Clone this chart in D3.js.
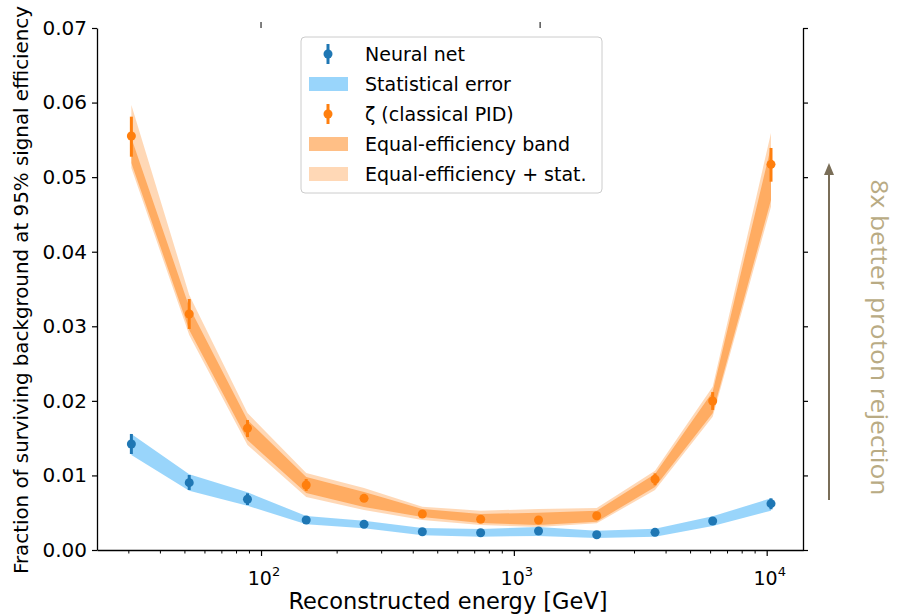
<!DOCTYPE html>
<html>
<head>
    <title>Background rejection vs energy</title>
    <style>
        body { margin: 0; background: #fff; }
        text { font-family: "DejaVu Sans", sans-serif; }
    </style>
</head>
<body>
    <script src="https://d3js.org/d3.v7.min.js"></script>
    <script>
        // bin centres in GeV
        const energy = [30.7, 52.0, 88.4, 150.9, 255.5, 434.5, 739, 1252, 2127, 3617, 6115, 10400];

        // Neural net
        const nnValue  = [0.01421, 0.00903, 0.0068, 0.00402, 0.00345, 0.00245, 0.00232, 0.00255, 0.00205, 0.00237, 0.00389, 0.00621];
        const nnErrHi  = [0.01556, 0.01006, 0.0076, 0.00418, 0.0036, 0.0026, 0.00247, 0.00272, 0.0022, 0.00253, 0.00405, 0.00693];
        const nnErrLo  = [0.01287, 0.00805, 0.00603, 0.00386, 0.0033, 0.0023, 0.00217, 0.00238, 0.0019, 0.00221, 0.00373, 0.00546];
        const nnBandHi = [0.01556, 0.01015, 0.00774, 0.00456, 0.00393, 0.00295, 0.00282, 0.00308, 0.00259, 0.00286, 0.00452, 0.00693];
        const nnBandLo = [0.01274, 0.00795, 0.00594, 0.00345, 0.00291, 0.00197, 0.00178, 0.00188, 0.00161, 0.00178, 0.00322, 0.00527];

        // zeta (classical PID)
        const zetaValue  = [0.05552, 0.03165, 0.01632, 0.00872, 0.00693, 0.00483, 0.00412, 0.00402, 0.0046, 0.00948, 0.01998, 0.05172];
        const zetaErrHi  = [0.05811, 0.03366, 0.01743, 0.00952, 0.0072, 0.0051, 0.00439, 0.00456, 0.00487, 0.01028, 0.02118, 0.05391];
        const zetaErrLo  = [0.05274, 0.02964, 0.01515, 0.00792, 0.00666, 0.00456, 0.00385, 0.00348, 0.00433, 0.00868, 0.01878, 0.04939];
        const bandHi = [0.05525, 0.03259, 0.01743, 0.00979, 0.00778, 0.0055, 0.00483, 0.005, 0.00527, 0.01019, 0.02123, 0.05408];
        const bandLo = [0.0519, 0.0295, 0.01475, 0.00764, 0.00577, 0.00443, 0.00362, 0.00335, 0.0038, 0.00845, 0.01833, 0.04694];
        const statHi = [0.05967, 0.0342, 0.01837, 0.01033, 0.00831, 0.00581, 0.00527, 0.0055, 0.00563, 0.01063, 0.0219, 0.05592];
        const statLo = [0.05123, 0.02883, 0.01408, 0.00711, 0.00536, 0.00402, 0.00335, 0.00308, 0.00358, 0.00805, 0.01788, 0.04604];

        const yTicks = [0, 0.01, 0.02, 0.03, 0.04, 0.05, 0.06, 0.07];
        const xMajor = [100, 1000, 10000];
        const topTicks = [100, 1270];

        const width = 898, height = 616;
        const margin = { top: 28, right: 95, bottom: 66, left: 97 };

        const svg = d3.select('body').append('svg')
            .attr('width', width)
            .attr('height', height);

        const x = d3.scaleLog()
            .domain([22.45, 13920])
            .range([margin.left, width - margin.right]);

        const y = d3.scaleLinear()
            .domain([0, 0.07])
            .range([height - margin.bottom, margin.top]);

        const rows = energy.map((e, i) => ({
            e,
            nn: nnValue[i], nnHi: nnErrHi[i], nnLo: nnErrLo[i], nbHi: nnBandHi[i], nbLo: nnBandLo[i],
            z: zetaValue[i], zHi: zetaErrHi[i], zLo: zetaErrLo[i],
            bHi: bandHi[i], bLo: bandLo[i], sHi: statHi[i], sLo: statLo[i]
        }));

        const blueBand = '#87cefa';
        const orange = '#ff7f0e';
        const blue = '#1f77b4';

        function band(lo, hi) {
            return d3.area().x(d => x(d.e)).y0(d => y(d[lo])).y1(d => y(d[hi]));
        }

        // bands
        svg.append('path').datum(rows).attr('d', band('nbLo', 'nbHi'))
            .attr('fill', blueBand).attr('fill-opacity', 0.85);
        svg.append('path').datum(rows).attr('d', band('sLo', 'sHi'))
            .attr('fill', orange).attr('fill-opacity', 0.3);
        svg.append('path').datum(rows).attr('d', band('bLo', 'bHi'))
            .attr('fill', orange).attr('fill-opacity', 0.5);

        // error bars
        svg.selectAll('line.nnerr').data(rows).enter().append('line')
            .attr('x1', d => x(d.e)).attr('x2', d => x(d.e))
            .attr('y1', d => y(d.nnLo)).attr('y2', d => y(d.nnHi))
            .attr('stroke', blue).attr('stroke-width', 3);
        svg.selectAll('circle.nn').data(rows).enter().append('circle')
            .attr('cx', d => x(d.e)).attr('cy', d => y(d.nn)).attr('r', 4.5)
            .attr('fill', blue);

        svg.selectAll('line.zerr').data(rows).enter().append('line')
            .attr('x1', d => x(d.e)).attr('x2', d => x(d.e))
            .attr('y1', d => y(d.zLo)).attr('y2', d => y(d.zHi))
            .attr('stroke', orange).attr('stroke-width', 3);
        svg.selectAll('circle.z').data(rows).enter().append('circle')
            .attr('cx', d => x(d.e)).attr('cy', d => y(d.z)).attr('r', 4.5)
            .attr('fill', orange);

        // axes
        const x0 = margin.left, x1 = width - margin.right;
        const y0 = height - margin.bottom, y1 = margin.top;

        const gLeft = svg.append('g').attr('transform', `translate(${x0},0)`)
            .call(d3.axisLeft(y).tickValues(yTicks).tickFormat(d3.format('.2f')).tickSize(5).tickPadding(5).tickSizeOuter(0));
        gLeft.selectAll('text').style('font-size', '20px').attr('fill', '#000');

        svg.append('g').attr('transform', `translate(${x1},0)`)
            .call(d3.axisRight(y).tickValues(yTicks).tickFormat('').tickSize(5).tickSizeOuter(0));

        // minor ticks for log axis
        const minor = [];
        [10, 100, 1000, 10000].forEach(dec => {
            for (let k = 2; k <= 9; k++) {
                const v = dec * k;
                if (v > x.domain()[0] && v < x.domain()[1]) minor.push(v);
            }
        });

        const gBottom = svg.append('g').attr('transform', `translate(0,${y0})`);
        gBottom.call(d3.axisBottom(x).tickValues(xMajor).tickFormat('').tickSize(6).tickSizeOuter(0));
        gBottom.selectAll('line.minor').data(minor).enter().append('line')
            .attr('class', 'minor')
            .attr('x1', d => x(d)).attr('x2', d => x(d))
            .attr('y1', 0).attr('y2', 3.5)
            .attr('stroke', '#000').attr('stroke-width', 1);

        const xl = gBottom.selectAll('text.xl').data(xMajor).enter().append('text')
            .attr('class', 'xl')
            .attr('x', d => x(d) + 3)
            .attr('y', 35)
            .attr('text-anchor', 'middle')
            .attr('fill', '#000')
            .style('font-size', '19px');
        xl.append('tspan').text('10');
        xl.append('tspan').attr('dy', -9).style('font-size', '13px').text(d => Math.round(Math.log10(d)));

        // top ticks
        svg.selectAll('line.top').data(topTicks).enter().append('line')
            .attr('x1', d => x(d)).attr('x2', d => x(d))
            .attr('y1', y1).attr('y2', y1 - 6)
            .attr('stroke', '#000').attr('stroke-width', 1);

        svg.selectAll('.domain').attr('stroke-width', 1.3);
        svg.selectAll('.tick line').attr('stroke-width', 1.2);

        // axis labels
        svg.append('text')
            .attr('x', (x0 + x1) / 2 - 2)
            .attr('y', 609)
            .attr('text-anchor', 'middle')
            .style('font-size', '22.5px')
            .text('Reconstructed energy [GeV]');

        svg.append('text')
            .attr('transform', `translate(28,${(y0 + y1) / 2 + 1}) rotate(-90)`)
            .attr('text-anchor', 'middle')
            .style('font-size', '19.5px')
            .attr('textLength', 568)
            .attr('lengthAdjust', 'spacingAndGlyphs')
            .text('Fraction of surviving background at 95% signal efficiency');

        // annotation arrow
        const arrowX = 829;
        svg.append('line')
            .attr('x1', arrowX).attr('x2', arrowX)
            .attr('y1', y(0.0067)).attr('y2', y(0.0505))
            .attr('stroke', '#7a6e58').attr('stroke-width', 2);
        svg.append('path')
            .attr('d', `M${arrowX},${y(0.0519)} l-5,12 l10,0 z`)
            .attr('fill', '#7a6e58');

        svg.append('text')
            .attr('transform', `translate(871,${y(0.0497)}) rotate(90)`)
            .attr('text-anchor', 'start')
            .style('font-family', '"Open Sans", sans-serif')
            .style('font-size', '23px')
            .attr('fill', '#b9ab84')
            .attr('textLength', 316)
            .attr('lengthAdjust', 'spacingAndGlyphs')
            .text('8x better proton rejection');

        // legend
        const lg = svg.append('g').attr('transform', 'translate(301,37)');
        lg.append('rect')
            .attr('width', 301).attr('height', 156)
            .attr('rx', 4)
            .attr('fill', '#fff').attr('fill-opacity', 0.8)
            .attr('stroke', '#cccccc').attr('stroke-width', 1);

        const entries = [
            { label: 'Neural net', kind: 'err', color: blue },
            { label: 'Statistical error', kind: 'patch', color: blueBand, op: 0.85 },
            { label: 'ζ (classical PID)', kind: 'err', color: orange },
            { label: 'Equal-efficiency band', kind: 'patch', color: orange, op: 0.5 },
            { label: 'Equal-efficiency + stat.', kind: 'patch', color: orange, op: 0.3 }
        ];

        const le = lg.selectAll('g.entry').data(entries).enter().append('g')
            .attr('transform', (d, i) => `translate(0,${17 + i * 30})`);

        le.filter(d => d.kind === 'patch').append('rect')
            .attr('x', 8).attr('y', -7).attr('width', 39).attr('height', 14)
            .attr('fill', d => d.color).attr('fill-opacity', d => d.op);
        le.filter(d => d.kind === 'err').append('line')
            .attr('x1', 27).attr('x2', 27).attr('y1', -10).attr('y2', 10)
            .attr('stroke', d => d.color).attr('stroke-width', 3);
        le.filter(d => d.kind === 'err').append('circle')
            .attr('cx', 27).attr('cy', 0).attr('r', 4.5)
            .attr('fill', d => d.color);
        le.append('text')
            .attr('x', 64).attr('y', 0).attr('dy', '0.36em')
            .style('font-size', '19px')
            .text(d => d.label);
    </script>
</body>
</html>
